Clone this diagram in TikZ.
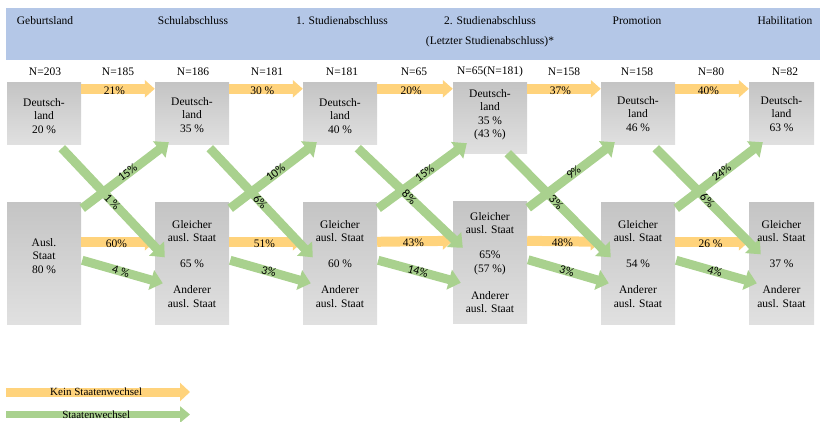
\documentclass[tikz,border=0pt]{standalone}
\usepackage{fontspec}
\setmainfont{Liberation Serif}
\newfontfamily\calib{Carlito}
\usetikzlibrary{arrows.meta,calc}
\definecolor{bandblue}{HTML}{B4C7E7}
\definecolor{orng}{HTML}{FFD37C}
\definecolor{grn}{HTML}{A9D18E}
\begin{document}
\begin{tikzpicture}[x=1pt,y=-1pt,
  font=\fontsize{11.5}{14}\selectfont,
  box/.style={draw=none, top color=black!23, bottom color=black!12, minimum width=74pt, inner sep=0},
  txt/.style={align=center, inner sep=0, font=\fontsize{11.5}{13.5}\selectfont},
  hd/.style={inner sep=0, font=\fontsize{11.5}{14}\selectfont},
  oarr/.style={draw=orng, line width=10pt, -{Triangle[length=10pt,width=17pt]}},
  garr/.style={draw=grn, line width=9pt, -{Triangle[length=12pt,width=20pt]}},
  glab/.style={font=\calib\fontsize{12}{14}\selectfont, sloped, inner sep=0},
  olab/.style={inner sep=0, yshift=-1.5pt, font=\fontsize{11.5}{13}\selectfont}]
\useasboundingbox (0,0) rectangle (820,422);
% header band
\fill[bandblue] (6,8) rectangle (820,60);
\node[hd] (h1) at (45,21) {Geburtsland};
\node[hd] (h2) at (193,21) {Schulabschluss};
\node[hd] (h3) at (342,21) {1. Studienabschluss};
\node[hd] (h4) at (490,21) {2. Studienabschluss};
\node[hd] (h4b) at (490,42) {(Letzter Studienabschluss)*};
\node[hd] (h5) at (637,21) {Promotion};
\node[hd] (h6) at (785,21) {Habilitation};
% N labels
\node[hd] (n1) at (45,72) {N=203};
\node[hd] (n2) at (118,72) {N=185};
\node[hd] (n3) at (193,72) {N=186};
\node[hd] (n4) at (267,72) {N=181};
\node[hd] (n5) at (342,72) {N=181};
\node[hd] (n6) at (414,72) {N=65};
\node[hd] (n7) at (490,72) {N=65(N=181)};
\node[hd] (n8) at (564,72) {N=158};
\node[hd] (n9) at (637,72) {N=158};
\node[hd] (n10) at (711,72) {N=80};
\node[hd] (n11) at (785,72) {N=82};
% boxes
\node[box, minimum height=62pt] (t1) at (44,114) {};
\node[box, minimum height=62pt] (t2) at (192,114) {};
\node[box, minimum height=62pt] (t3) at (340,114) {};
\node[box, minimum height=71pt] (t4) at (490,118.5) {};
\node[box, minimum height=62pt] (t5) at (638,114) {};
\node[box, minimum height=62pt, minimum width=65pt] (t6) at (781.5,114) {};
\node[box, minimum height=122pt] (b1) at (44,263.5) {};
\node[box, minimum height=122pt] (b2) at (192,263.5) {};
\node[box, minimum height=122pt] (b3) at (340,263.5) {};
\node[box, minimum height=122pt] (b4) at (490,263) {};
\node[box, minimum height=122pt] (b5) at (638,263.5) {};
\node[box, minimum height=122pt, minimum width=65pt] (b6) at (781.5,263.5) {};
% orange arrows (no change of state)
\draw[oarr] ([yshift=-6pt]t1.north east) -- ([yshift=-6pt]t2.north west) node[olab, pos=0.45] (o1) {21\%};
\draw[oarr] ([yshift=-6pt]t2.north east) -- ([yshift=-6pt]t3.north west) node[olab, pos=0.45] (o2) {30 \%};
\draw[oarr] ([yshift=-6pt]t3.north east) -- ([yshift=-6pt]t4.north west) node[olab, pos=0.45] (o3) {20\%};
\draw[oarr] ([yshift=-6pt]t4.north east) -- ([yshift=-6pt]t5.north west) node[olab, pos=0.45] (o4) {37\%};
\draw[oarr] ([yshift=-6pt]t5.north east) -- ([yshift=-6pt]t6.north west) node[olab, pos=0.45] (o5) {40\%};
\draw[oarr] ([yshift=-39.5pt]b1.north east) -- ([yshift=-39.5pt]b2.north west) node[olab, pos=0.48] (p1) {60\%};
\draw[oarr] ([yshift=-39.5pt]b2.north east) -- ([yshift=-39.5pt]b3.north west) node[olab, pos=0.48] (p2) {51\%};
\draw[oarr] ([yshift=-39.5pt]b3.north east) -- ([yshift=-39pt]b4.north west) node[olab, pos=0.48] (p3) {43\%};
\draw[oarr] ([yshift=-39pt]b4.north east) -- ([yshift=-39.5pt]b5.north west) node[olab, pos=0.48] (p4) {48\%};
\draw[oarr] ([yshift=-39.5pt]b5.north east) -- ([yshift=-39.5pt]b6.north west) node[olab, pos=0.48] (p5) {26 \%};
% green arrows: up
\draw[garr] ([xshift=1pt,yshift=-6pt]b1.north east) -- ([xshift=14pt,yshift=3pt]t2.south west) node[glab, pos=0.53, yshift=1pt] (u1) {15\%};
\draw[garr] ([xshift=1pt,yshift=-6pt]b2.north east) -- ([xshift=14pt,yshift=3pt]t3.south west) node[glab, pos=0.53, yshift=1pt] (u2) {10\%};
\draw[garr] ([xshift=1pt,yshift=-6pt]b3.north east) -- ([xshift=14pt,yshift=11pt]t4.south west) node[glab, pos=0.53, yshift=1pt] (u3) {15\%};
\draw[garr] ([xshift=1pt,yshift=-6pt]b4.north east) -- ([xshift=14pt,yshift=3pt]t5.south west) node[glab, pos=0.53, yshift=1pt] (u4) {9\%};
\draw[garr] ([xshift=1pt,yshift=-6pt]b5.north east) -- ([xshift=14pt,yshift=3pt]t6.south west) node[glab, pos=0.53, yshift=1pt] (u5) {24\%};
% green arrows: down
\draw[garr] ([xshift=55pt,yshift=-3pt]t1.south west) -- ([xshift=10pt,yshift=-55pt]b2.north west) node[glab, pos=0.49] (d1) {1 \%};
\draw[garr] ([xshift=55pt,yshift=-3pt]t2.south west) -- ([xshift=10pt,yshift=-55pt]b3.north west) node[glab, pos=0.49] (d2) {6\%};
\draw[garr] ([xshift=55pt,yshift=-3pt]t3.south west) -- ([xshift=10pt,yshift=-46pt]b4.north west) node[glab, pos=0.49] (d3) {8\%};
\draw[garr] ([xshift=55pt,yshift=1pt]t4.south west) -- ([xshift=10pt,yshift=-55pt]b5.north west) node[glab, pos=0.47] (d4) {3\%};
\draw[garr] ([xshift=55pt,yshift=-3pt]t5.south west) -- ([xshift=12pt,yshift=-52pt]b6.north west) node[glab, pos=0.49] (d5) {6\%};
% green arrows: lower
\draw[garr] ([xshift=1pt,yshift=-58pt]b1.north east) -- ([xshift=8pt,yshift=-81pt]b2.north west) node[glab, pos=0.48] (w1) {4 \%};
\draw[garr] ([xshift=1pt,yshift=-58pt]b2.north east) -- ([xshift=8pt,yshift=-81pt]b3.north west) node[glab, pos=0.48] (w2) {3\%};
\draw[garr] ([xshift=1pt,yshift=-58pt]b3.north east) -- ([xshift=8pt,yshift=-81pt]b4.north west) node[glab, pos=0.48] (w3) {14\%};
\draw[garr] ([xshift=1pt,yshift=-58pt]b4.north east) -- ([xshift=8pt,yshift=-81pt]b5.north west) node[glab, pos=0.48] (w4) {3\%};
\draw[garr] ([xshift=1pt,yshift=-58pt]b5.north east) -- ([xshift=8pt,yshift=-81pt]b6.north west) node[glab, pos=0.48] (w5) {4\%};
% box texts
\node[txt] (tt1) at (44,116) {Deutsch-\\land\\20 \%};
\node[txt] (tt2) at (192,115) {Deutsch-\\land\\35 \%};
\node[txt] (tt3) at (340,116) {Deutsch-\\land\\40 \%};
\node[txt] (tt4) at (490,114.5) {Deutsch-\\land\\35 \%\\(43 \%)};
\node[txt] (tt5) at (638,114) {Deutsch-\\land\\46 \%};
\node[txt] (tt6) at (781.5,114) {Deutsch-\\land\\63 \%};
\node[txt] (bt1) at (44,256) {Ausl.\\Staat\\80 \%};
\foreach \i/\x/\p in {2/192/65 \%,3/340/60 \%,5/638/54 \%,6/781.5/37 \%}{
  \node[txt] (bg\i) at (\x,231) {Gleicher\\ausl. Staat};
  \node[txt] (bp\i) at (\x,264) {\p};
  \node[txt] (ba\i) at (\x,296.5) {Anderer\\ausl. Staat};
}
\node[txt] (bg4) at (490,223) {Gleicher\\ausl. Staat};
\node[txt] (bp4) at (490,263) {65\%\\(57 \%)};
\node[txt] (ba4) at (490,302) {Anderer\\ausl. Staat};
% legend
\coordinate (lo1) at (6,392);
\coordinate (lo2) at (190,392);
\coordinate (lg1) at (6,414.5);
\coordinate (lg2) at (190,414.5);
\draw[draw=orng, line width=9pt, -{Triangle[length=10pt,width=18pt]}] (lo1) -- (lo2) node[inner sep=0, pos=0.49, font=\fontsize{11}{13}\selectfont] (lk) {Kein Staatenwechsel};
\draw[draw=grn, line width=7pt, -{Triangle[length=10pt,width=16pt]}] (lg1) -- (lg2) node[inner sep=0, pos=0.49, font=\fontsize{11}{13}\selectfont] (ls) {Staatenwechsel};
\end{tikzpicture}
\end{document}
